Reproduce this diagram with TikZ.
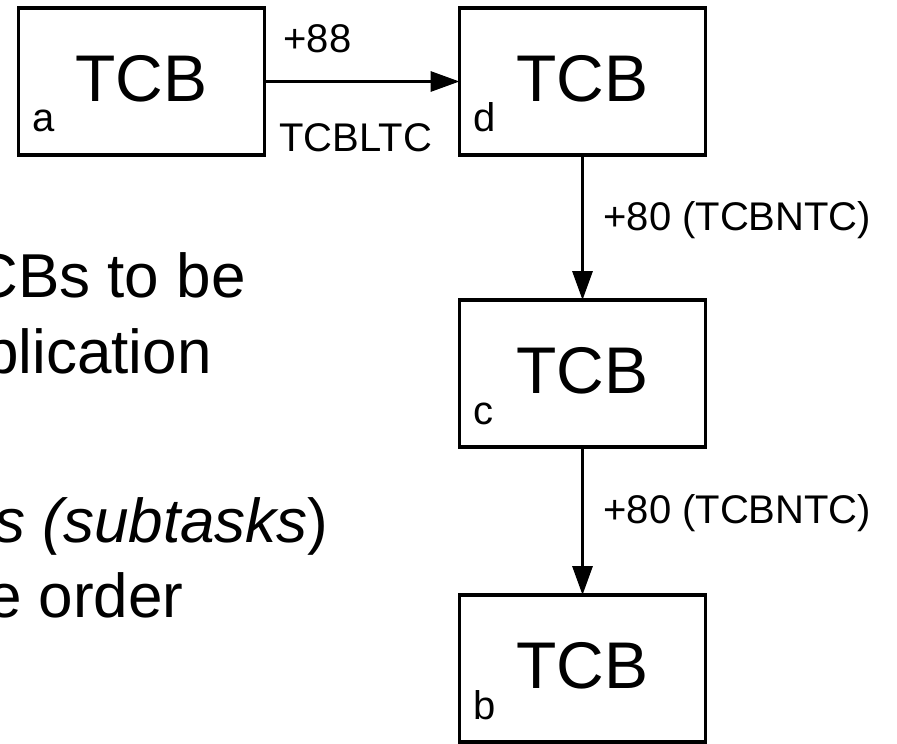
\documentclass[tikz,border=0pt]{standalone}
\usepackage{fontspec}
\setmainfont{Liberation Sans}
\usetikzlibrary{positioning,arrows.meta}

\tikzset{
  tcbbox/.style={draw, line width=1.7pt, minimum width=123pt, minimum height=73.5pt,
    inner sep=0pt, outer sep=0pt, text depth=3pt, font=\fontsize{33}{40}\selectfont},
  tag/.style={inner sep=0pt, font=\fontsize{20}{24}\selectfont},
  edgelabel/.style={inner sep=0pt, font=\fontsize{20}{24}\selectfont},
  bodytext/.style={inner sep=0pt, font=\fontsize{31}{37}\selectfont},
  flow/.style={line width=1.6pt, -{Triangle[length=14.5pt, width=10pt]}}
}

\begin{document}
\begin{tikzpicture}[x=0.5pt, y=-0.5pt]
    \useasboundingbox (0,0) rectangle (897,743);
    \clip (0,0) rectangle (897,743);

    % Slide text running in from the left
    \node[bodytext, anchor=base east] (line1) at (246,297) {CBs to be};
    \node[bodytext, anchor=base east] (line2) at (212,373) {plication};
    \node[bodytext, anchor=base east] (line3) at (329,542) {\textit{s (subtasks})};
    \node[bodytext, anchor=base east] (line4) at (184,617) {e order};

    % TCB chain
    \node[tcbbox] (tcba) at (141.5,81.5) {TCB};
    \node[tcbbox, right=97.5pt of tcba] (tcbd) {TCB};
    \node[tcbbox, below=72.5pt of tcbd] (tcbc) {TCB};
    \node[tcbbox, below=74pt of tcbc] (tcbb) {TCB};

    % Corner tags
    \foreach \n in {a,b,c,d}
        \node[tag, anchor=base west] (tag\n) at ([xshift=6.75pt, yshift=11.5pt]tcb\n.south west) {\n};

    % Links
    \draw[flow] (tcba) -- (tcbd);
    \draw[flow] (tcbd) -- (tcbc);
    \draw[flow] (tcbc) -- (tcbb);

    \node[edgelabel, anchor=base west] (lab88) at (283,53) {+88};
    \node[edgelabel, anchor=base west] (labltc) at (279,152) {TCBLTC};
    \node[edgelabel, anchor=base west] (labntc1) at (603,230) {+80 (TCBNTC)};
    \node[edgelabel, anchor=base west] (labntc2) at (603,523) {+80 (TCBNTC)};
\end{tikzpicture}
\end{document}
